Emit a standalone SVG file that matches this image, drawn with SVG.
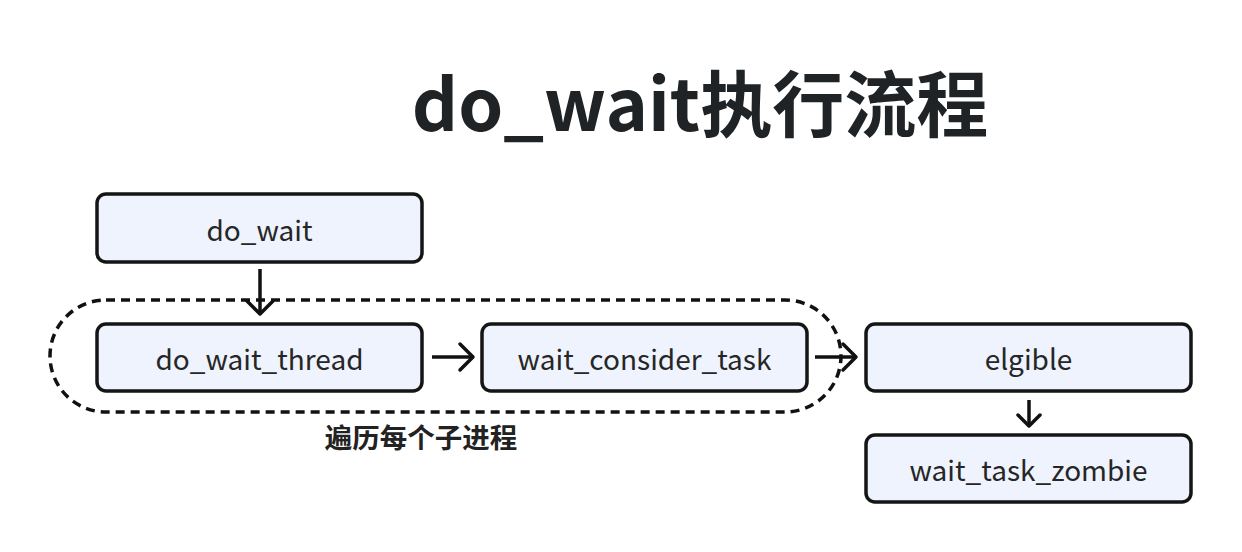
<svg xmlns="http://www.w3.org/2000/svg" width="1242" height="552" viewBox="0 0 1242 552">
<defs>
<style>
.node rect{fill:#eef3fd;stroke:#151515;stroke-width:3.5}
.node text{font-family:"Noto Sans CJK SC","Noto Sans",sans-serif;font-size:28px;fill:#262626;text-anchor:middle}
.edge{fill:none;stroke:#111;stroke-width:3.5}
.head{fill:none;stroke:#111;stroke-width:3.5;stroke-linecap:round;stroke-linejoin:round}
</style>
</defs>
<rect width="1242" height="552" fill="#ffffff"/>
<text x="700" y="131" font-family="'Noto Sans CJK SC','Noto Sans',sans-serif" font-size="72" font-weight="700" fill="#202326" text-anchor="middle">do_wait执行流程</text>
<g id="loop">
<rect x="50" y="300" width="791" height="112" rx="56" ry="56" fill="none" stroke="#111" stroke-width="3.5" stroke-dasharray="9 6"/>
<text x="421" y="448" font-family="'Noto Sans CJK SC',sans-serif" font-size="27.5" font-weight="700" fill="#222" text-anchor="middle">遍历每个子进程</text>
</g>
<g id="connectors">
<line class="edge" x1="260" y1="269" x2="260" y2="314"/>
<path class="head" d="M247 301 L260 314 L273 301"/>
<line class="edge" x1="432" y1="357" x2="473" y2="357"/>
<path class="head" d="M460 344 L473 357 L460 370"/>
<line class="edge" x1="815" y1="357" x2="856" y2="357"/>
<path class="head" d="M843 344 L856 357 L843 370"/>
<line class="edge" x1="1029" y1="400" x2="1029" y2="426"/>
<path class="head" d="M1018 415 L1029 426 L1040 415"/>
</g>
<g id="n_do_wait" class="node">
<rect x="97" y="194" width="325" height="68" rx="9"/>
<text x="259.5" y="240.5">do_wait</text>
</g>
<g id="n_do_wait_thread" class="node">
<rect x="97" y="324" width="325" height="67" rx="9"/>
<text x="259.5" y="370">do_wait_thread</text>
</g>
<g id="n_wait_consider_task" class="node">
<rect x="482" y="324" width="325" height="67" rx="9"/>
<text x="644.5" y="370">wait_consider_task</text>
</g>
<g id="n_elgible" class="node">
<rect x="866" y="324" width="325" height="67" rx="9"/>
<text x="1028.5" y="370">elgible</text>
</g>
<g id="n_wait_task_zombie" class="node">
<rect x="866" y="435" width="325" height="67" rx="9"/>
<text x="1028.5" y="481">wait_task_zombie</text>
</g>
</svg>
